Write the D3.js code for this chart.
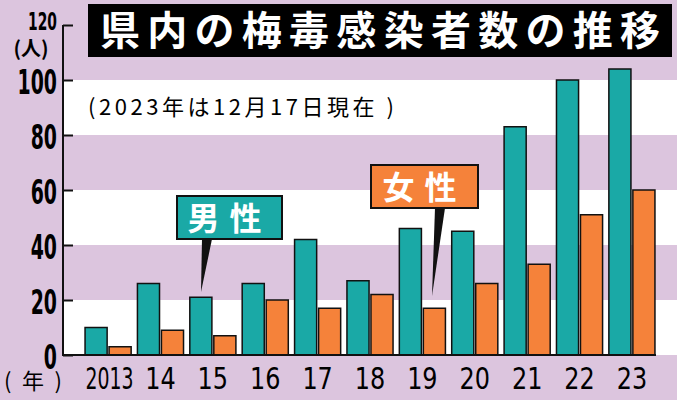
<!DOCTYPE html><html><head><meta charset="utf-8"><script src="https://cdn.jsdelivr.net/npm/d3@7"></script>
<style>body{margin:0;background:#dcc5de}</style></head><body><script>
const years=["2013","14","15","16","17","18","19","20","21","22","23"];
const male=[10,26,21,26,42,27,46,45,83,100,104];
const female=[3,9,7,20,17,22,17,26,33,51,60];
const ticks=[0,20,40,60,80,100,120];
const W=677,H=400;
const svg=d3.select("body").append("svg").attr("width",W).attr("height",H).style("font-family","'Noto Sans CJK JP'");
svg.append("rect").attr("width",W).attr("height",H).attr("fill","#dcc5de");
const y=d3.scaleLinear().domain([0,120]).range([355,25]);
const x=d3.scaleBand().domain(years).range([84,656]).paddingInner(0.12).paddingOuter(0.02);
const x2=d3.scaleBand().domain([0,1]).range([0,x.bandwidth()]).paddingInner(0.08);
[0,40,80].forEach(v=>svg.append("rect").attr("x",63).attr("width",W-63).attr("y",y(v+20)).attr("height",y(v)-y(v+20)).attr("fill","#fff"));
const ax=svg.append("g").attr("transform","translate(63,0)").call(d3.axisRight(y).tickValues(ticks).tickSize(10).tickFormat(""));
ax.selectAll("path,line").attr("stroke","#111").attr("stroke-width",2);
ax.select(".domain").attr("d","M0,"+y(120)+"V"+y(0)+"H10");
svg.selectAll(".yt").data(ticks).join("text").attr("x",57).attr("y",d=>d==120?y(d)+4:y(d)+12).attr("text-anchor","end")
 .attr("font-family","'DejaVu Sans Condensed'").attr("font-weight","bold").attr("font-size",d=>d==120?22:30)
 .attr("transform",d=>`translate(57,${y(d)}) scale(0.7,1.15) translate(-57,${-y(d)})`).text(d=>d);
svg.append("text").attr("x",31).attr("y",56).attr("text-anchor","middle").attr("font-size",20).attr("font-weight","bold").text("(人)");
const g=svg.append("g");
years.forEach((yr,i)=>{
 [[male[i],"#1aa9a6",0],[female[i],"#f5823a",1]].forEach(([v,c,k])=>{
  g.append("rect").attr("x",x(yr)+x2(k)).attr("width",x2.bandwidth()).attr("y",y(v)).attr("height",y(0)-y(v)).attr("fill",c).attr("stroke","#111").attr("stroke-width",1.5);
 });
});
svg.append("line").attr("x1",63).attr("x2",656).attr("y1",y(0)).attr("y2",y(0)).attr("stroke","#111").attr("stroke-width",2);
svg.selectAll(".xt").data(years).join("text").attr("x",d=>x(d)+x.bandwidth()/2+(d=="2013"?2:0)).attr("y",389).attr("text-anchor","middle")
 .attr("font-size",28).attr("font-family","'DejaVu Sans Condensed'")
 .attr("transform",d=>{const cx=x(d)+x.bandwidth()/2;return `translate(${cx},389) scale(${d=="2013"?0.75:0.95},1.1) translate(${-cx},-389)`}).text(d=>d);
svg.append("text").attr("x",4).attr("y",389).attr("font-size",22).attr("textLength",58).text("(年)");
svg.append("rect").attr("x",88).attr("y",4).attr("width",584).attr("height",53).attr("fill","#000");
svg.append("text").attr("x",380).attr("y",45).attr("text-anchor","middle").attr("fill","#fff").attr("font-size",40).attr("font-weight","bold").attr("textLength",560).text("県内の梅毒感染者数の推移");
svg.append("text").attr("x",88).attr("y",115).attr("font-size",22).attr("textLength",306).text("(2023年は12月17日現在 )");
function lab(x0,y0,w,h,c,t,px,py,bx){
 svg.append("path").attr("d",`M${bx-5},${y0+h}L${px},${py}L${bx+5},${y0+h}Z`).attr("fill","#111");
 svg.append("rect").attr("x",x0).attr("y",y0).attr("width",w).attr("height",h).attr("fill",c).attr("stroke","#111").attr("stroke-width",2);
 svg.append("text").attr("x",x0+w/2).attr("y",y0+h/2+12).attr("text-anchor","middle").attr("fill","#fff").attr("font-size",32).attr("font-weight","bold").attr("letter-spacing",10).text(t);
}
lab(177,196,105,43,"#1aa9a6","男性",201,292,207);
lab(371,165,107,43,"#f5823a","女性",432,296,440);
</script></body></html>
